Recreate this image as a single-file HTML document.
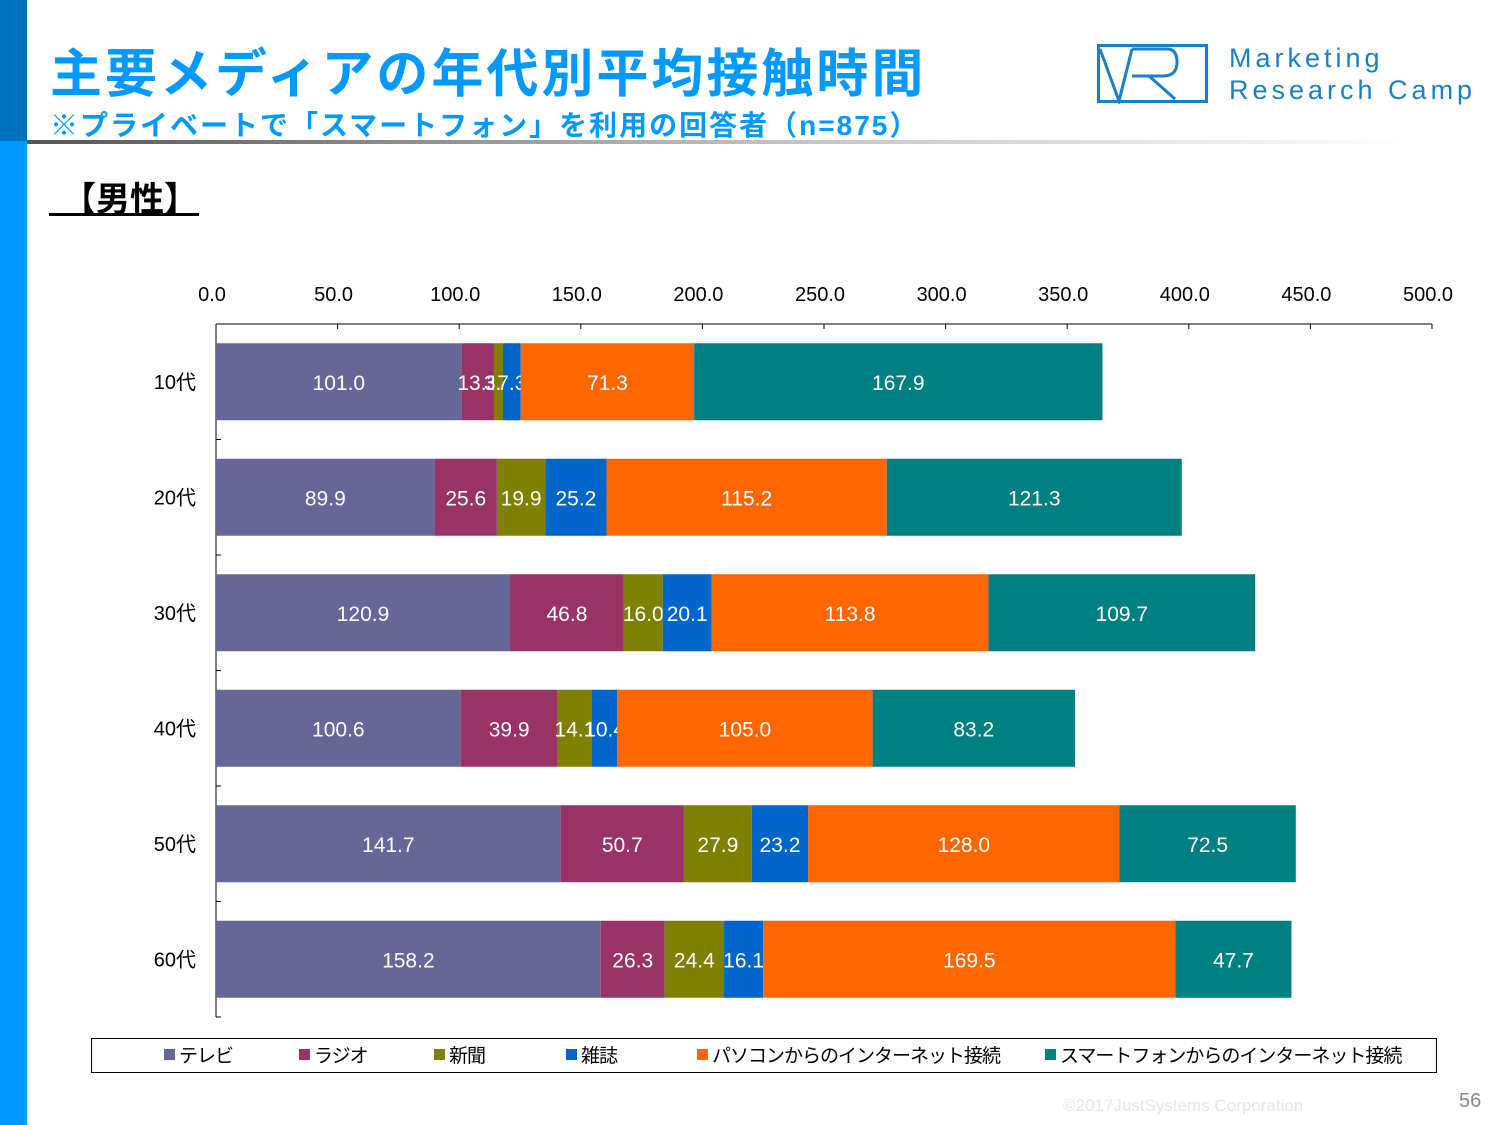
<!DOCTYPE html>
<html><head><meta charset="utf-8"><style>
body{margin:0;width:1500px;height:1125px;position:relative;background:#fff;font-family:"Liberation Sans","Noto Sans CJK JP",sans-serif;overflow:hidden}
.a{position:absolute}
</style></head><body>
<div class="a" style="left:0;top:0;width:27px;height:141px;background:#0070c0"></div>
<div class="a" style="left:0;top:141px;width:27px;height:984px;background:#0099ff"></div>
<div class="a" style="left:50px;top:32px;font-size:52px;font-weight:bold;color:#0099ff;letter-spacing:3px;white-space:nowrap">主要メディアの年代別平均接触時間</div>
<div class="a" style="left:50px;top:104px;font-size:28px;font-weight:bold;color:#0099ff;letter-spacing:2px;white-space:nowrap">※プライベートで「スマートフォン」を利用の回答者（n=875）</div>
<div class="a" style="left:27px;top:140px;width:1380px;height:4px;background:linear-gradient(90deg,#555,#bbb 50%,#fff)"></div>
<svg class="a" style="left:1097px;top:44px" width="112" height="60"><rect x="1.5" y="1.5" width="108" height="56" fill="none" stroke="#1a7fc4" stroke-width="3"/><path d="M3 5 L22 57 L35 5 M35 5 H70 Q80 5 80 18 Q80 32 66 32 H35 M52 32 L78 55" fill="none" stroke="#1a7fc4" stroke-width="3"/></svg>
<div class="a" style="left:1229px;top:42px;font-size:27px;color:#1a7fc4;letter-spacing:4px;line-height:32px">Marketing<br>Research Camp</div>
<div class="a" style="left:62px;top:172px;font-size:34px;font-weight:bold;color:#000">【男性】</div>
<div class="a" style="left:49px;top:213px;width:150px;height:3px;background:#000"></div>
<svg class="a" id="chart" style="left:0;top:0" width="1500" height="1125"></svg>
<div class="a" style="left:91px;top:1038px;width:1344px;height:33px;border:1px solid #000"></div>
<div class="a" style="left:1063px;top:1096px;font-size:17px;color:#e0e8ee">©2017JustSystems Corporation</div>
<div class="a" style="left:1459px;top:1090px;font-size:20px;color:#888">56</div>
<script>
const categories=["10代","20代","30代","40代","50代","60代"];
const seriesNames=["テレビ","ラジオ","新聞","雑誌","パソコンからのインターネット接続","スマートフォンからのインターネット接続"];
const tv=[101.0,89.9,120.9,100.6,141.7,158.2];
const radio=[13.3,25.6,46.8,39.9,50.7,26.3];
const paper=[3.7,19.9,16.0,14.1,27.9,24.4];
const magazine=[7.3,25.2,20.1,10.4,23.2,16.1];
const pc=[71.3,115.2,113.8,105.0,128.0,169.5];
const phone=[167.9,121.3,109.7,83.2,72.5,47.7];
const ticks=[0,50,100,150,200,250,300,350,400,450,500];
const colors=["#666699","#993366","#808000","#0066cc","#ff6600","#008080"];
const series=[tv,radio,paper,magazine,pc,phone];
const NS="http://www.w3.org/2000/svg",svg=document.getElementById("chart");
const x0=216,x1=1432,yTop=324,band=115.5,barH=77;
const X=v=>x0+(v/500)*(x1-x0);
const Y=i=>yTop+band*i+band/2;
function mk(t,a){const e=document.createElementNS(NS,t);for(const k in a)e.setAttribute(k,a[k]);svg.appendChild(e);return e;}
let l=mk("line",{x1:x0,y1:yTop,x2:x1,y2:yTop,stroke:"#000"});


l=mk("line",{x1:x0,y1:yTop,x2:x0,y2:yTop+band*6,stroke:"#000"});


ticks.forEach(t=>{
 const tk=mk("line",{x1:X(t),y1:yTop,x2:X(t),y2:yTop+5,stroke:"#000"});
 
 
 const tx=mk("text",{x:X(t)-4,y:301,"text-anchor":"middle","font-size":20,fill:"#000"});
 tx.textContent=t.toFixed(1);
 
 
});
for(let i=1;i<=6;i++){const tk=mk("line",{x1:x0,y1:yTop+band*i,x2:x0+5,y2:yTop+band*i,stroke:"#000"});
 
 }
categories.forEach((c,i)=>{
 const tx=mk("text",{x:196,y:Y(i)+7,"text-anchor":"end","font-size":20,fill:"#000"});
 tx.textContent=c;
 
 
 let acc=0;
 series.forEach((s,j)=>{
  const v=s[i];
  const r=mk("rect",{x:X(acc),y:Y(i)-barH/2,width:X(acc+v)-X(acc),height:barH,fill:colors[j]});
  
  
  const lb=mk("text",{x:(X(acc)+X(acc+v))/2,y:Y(i)+8,"text-anchor":"middle","font-size":21,fill:"#fff"});
  lb.textContent=v.toFixed(1);
  
  
  acc+=v;
 });
});
const lx=[164,299,434,566,697,1045];
seriesNames.forEach((n,j)=>{
 const r=mk("rect",{x:lx[j],y:1049,width:11,height:11,fill:colors[j]});
 
 
 const t=mk("text",{x:lx[j]+15,y:1062,"font-size":19,"letter-spacing":"-1",fill:"#000"});
 t.textContent=n;
 
 
});
</script>
</body></html>
